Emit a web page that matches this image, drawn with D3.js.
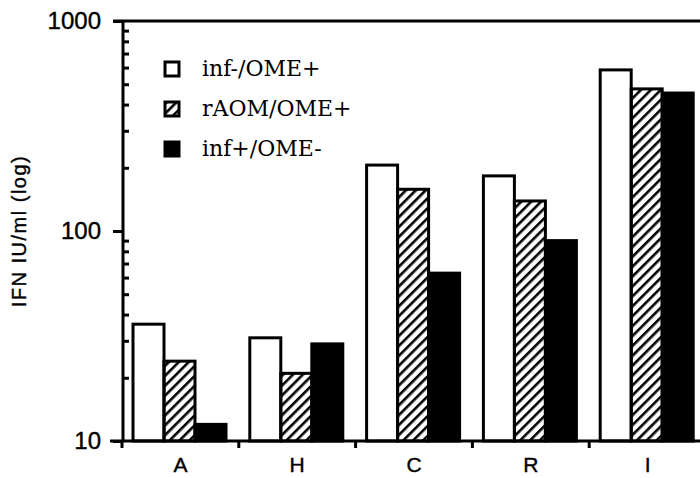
<!DOCTYPE html>
<html>
<head>
<meta charset="utf-8">
<script src="https://cdn.jsdelivr.net/npm/d3@7"></script>
<style>
  body { margin: 0; background: #fff; }
  svg { display: block; }
</style>
</head>
<body>
<script>
// data (IFN IU/ml, log scale)
var categories = ["A", "H", "C", "R", "I"];
var seriesNames = ["inf-/OME+", "rAOM/OME+", "inf+/OME-"];
var infMinusOmePlus = [36, 31, 206, 183, 585];
var raomOmePlus = [24, 21, 158, 139, 475];
var infPlusOmeMinus = [12, 29, 63, 90, 454];
var yTicks = [10, 100, 1000];

var seriesValues = [infMinusOmePlus, raomOmePlus, infPlusOmeMinus];

var W = 700, H = 478;
var margin = {top: 21, right: 0, bottom: 37, left: 123};
var width = W - margin.left - margin.right,
    height = H - margin.top - margin.bottom;

var svg = d3.select("body").append("svg")
    .attr("width", W)
    .attr("height", H);

// hatch pattern
var defs = svg.append("defs");
defs.append("pattern")
    .attr("id", "hatch")
    .attr("patternUnits", "userSpaceOnUse")
    .attr("width", 7)
    .attr("height", 7)
    .attr("patternTransform", "rotate(45)")
  .append("rect")
    .attr("x", 0).attr("y", 0)
    .attr("width", 2.6).attr("height", 7)
    .attr("fill", "#000");

var fills = ["#fff", "url(#hatch)", "#000"];
var sans = "Liberation Sans, Arial, sans-serif";

var g = svg.append("g")
    .attr("transform", "translate(" + margin.left + "," + margin.top + ")");

// scales
var x0 = d3.scaleBand().domain(categories).range([-1, 583]).padding(0);
var x1 = d3.scaleBand().domain(d3.range(3)).range([11, 104]).padding(0);
var y = d3.scaleLog().domain([10, 1000]).range([height, 0]);

// bars
var groups = g.selectAll(".grp")
    .data(categories)
  .enter().append("g")
    .attr("class", "grp")
    .attr("transform", function(d) { return "translate(" + x0(d) + ",0)"; });

groups.selectAll("rect")
    .data(function(d, i) { return seriesValues.map(function(s, k) { return {k: k, v: s[i]}; }); })
  .enter().append("rect")
    .attr("x", function(d) { return x1(d.k); })
    .attr("y", function(d) { return y(d.v); })
    .attr("width", x1.bandwidth())
    .attr("height", function(d) { return height - y(d.v); })
    .attr("fill", function(d) { return fills[d.k]; })
    .attr("stroke", "#000")
    .attr("stroke-width", 3);

// y axis: minor ticks inward
var minor = [];
[10, 100].forEach(function(dec) {
  for (var m = 2; m <= 9; m++) minor.push(dec * m);
});
var yMinor = d3.axisRight(y).tickValues(minor).tickSize(6).tickFormat("");
g.append("g").call(yMinor)
  .call(function(a) { a.select(".domain").remove(); })
  .selectAll("line").attr("stroke-width", 3);

var yAxis = d3.axisLeft(y).tickValues(yTicks).tickSize(10).tickPadding(12)
    .tickFormat(d3.format("d"));
var ya = g.append("g").call(yAxis);
ya.select(".domain").attr("stroke-width", 3).attr("d", "M0,0V" + height);
ya.selectAll("line").attr("stroke-width", 3);
ya.selectAll("text")
    .attr("font-family", sans)
    .attr("font-size", 24)
    .attr("stroke", "#000")
    .attr("stroke-width", 0.4)
    .attr("fill", "#000");

// x axis
var xa = g.append("g").attr("transform", "translate(0," + height + ")");
xa.append("line")
    .attr("x1", -13).attr("x2", width)
    .attr("stroke", "#000").attr("stroke-width", 3);
xa.selectAll(".xt")
    .data(categories)
  .enter().append("line")
    .attr("class", "xt")
    .attr("x1", function(d) { return x0(d); })
    .attr("x2", function(d) { return x0(d); })
    .attr("y1", 0).attr("y2", 7)
    .attr("stroke", "#000").attr("stroke-width", 3);
xa.selectAll(".xl")
    .data(categories)
  .enter().append("text")
    .attr("class", "xl")
    .attr("x", function(d) { return x0(d) + x0.bandwidth() / 2; })
    .attr("y", 31)
    .attr("text-anchor", "middle")
    .attr("font-family", sans)
    .attr("font-size", 21)
    .attr("stroke", "#000")
    .attr("stroke-width", 0.4)
    .text(function(d) { return d; });

// top border
g.append("line")
    .attr("x1", -10).attr("x2", width)
    .attr("y1", 0).attr("y2", 0)
    .attr("stroke", "#000").attr("stroke-width", 3);

// y label
svg.append("text")
    .attr("transform", "translate(26," + (margin.top + height / 2) + ") rotate(-90)")
    .attr("text-anchor", "middle")
    .attr("font-family", sans)
    .attr("font-size", 20)
    .attr("letter-spacing", 1.5)
    .attr("stroke", "#000")
    .attr("stroke-width", 0.4)
    .text("IFN IU/ml (log)");

// legend
var legend = svg.selectAll(".legend")
    .data(seriesNames)
  .enter().append("g")
    .attr("class", "legend")
    .attr("transform", function(d, i) { return "translate(165," + (62 + i * 40) + ")"; });

legend.append("rect")
    .attr("width", 14).attr("height", 14)
    .attr("fill", function(d, i) { return fills[i]; })
    .attr("stroke", "#000")
    .attr("stroke-width", 3);

legend.append("text")
    .attr("x", 37)
    .attr("y", 14)
    .attr("font-family", "DejaVu Serif, serif")
    .attr("font-size", 22)
    .text(function(d) { return d; });
</script>
</body>
</html>
